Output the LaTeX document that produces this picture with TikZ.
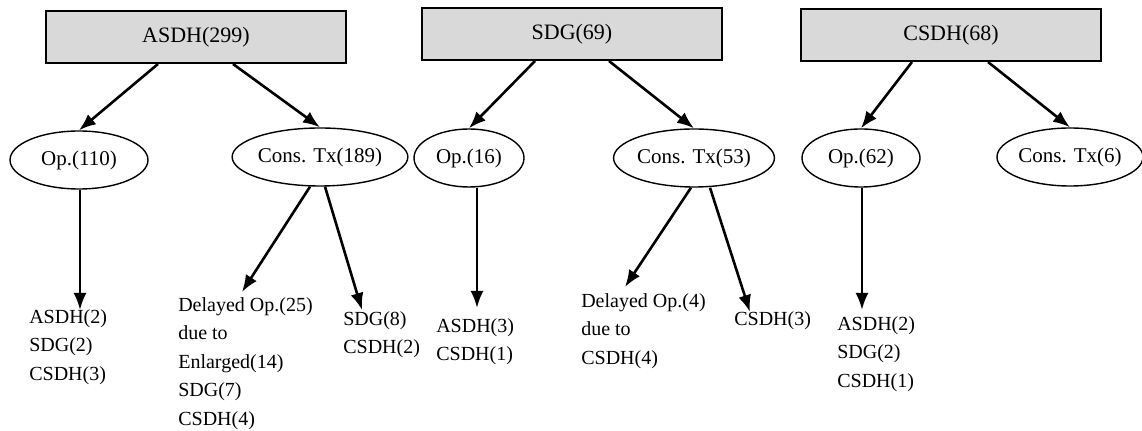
\documentclass[tikz,border=0pt]{standalone}
\usepackage{fontspec}
\setmainfont{Liberation Serif}
\usepackage{tikz}
\usetikzlibrary{arrows.meta, positioning, shapes.geometric, calc}

\begin{document}
\begin{tikzpicture}[
  x=0.5pt, y=-0.5pt,
  >={Latex[length=8.5pt, width=6.5pt]}, line width=1.3pt,
  group/.style = {draw, rectangle, fill=gray!30, line width=1pt,
                  minimum width=150pt, minimum height=26pt, font=\fontsize{11}{13}\selectfont},
  kind/.style  = {draw, ellipse, line width=0.7pt, inner sep=0pt,
                  minimum height=29pt, font=\fontsize{10.5}{12}\selectfont},
  leaf/.style  = {align=left, inner sep=0pt, anchor=north west,
                  font=\fontsize{10}{14.3}\selectfont},
]
  \useasboundingbox (0,0) rectangle (1142,431);

%--- ASDH ---
  \node[group]                         (asdh)  at (196,37)  {ASDH(299)};
  \node[kind, minimum width=69pt]      (aop)   at (79,160)  {Op.(110)};
  \node[kind, minimum width=70pt]      (acons) at (320,157) {Cons. Tx(189)};

  \node[leaf] (aopl)  at (28,308)  {ASDH(2)\\SDG(2)\\CSDH(3)};
  \node[leaf] (adel)  at (177,296) {Delayed Op.(25)\\due to\\Enlarged(14)\\SDG(7)\\CSDH(4)};
  \node[leaf] (aoth)  at (342,310) {SDG(8)\\CSDH(2)};

  \coordinate (aopt)  at (80,310);
  \coordinate (adelt) at (242,292);
  \coordinate (aotht) at (362,310);

  \draw[->] ($(asdh.south)+(-38,0)$) -- (aop.north);
  \draw[->] ($(asdh.south)+(37,0)$)  -- (acons.north);
  \draw[->] (aop.south -| aopt)      -- (aopt);
  \draw[->] ($(acons.south)+(-10,0)$) -- (adelt);
  \draw[->] ($(acons.south)+(5,0)$)   -- (aotht);

%--- SDG ---
  \node[group]                         (sdg)   at (572,34)  {SDG(69)};
  \node[kind, minimum width=55pt]      (sop)   at (469,158) {Op.(16)};
  \node[kind, minimum width=69pt]      (scons) at (694,158) {Cons. Tx(53)};

  \node[leaf] (sopl)  at (435,317) {ASDH(3)\\CSDH(1)};
  \node[leaf] (sdel)  at (580,292) {Delayed Op.(4)\\due to\\CSDH(4)};
  \node[leaf] (soth)  at (733,310) {CSDH(3)};

  \coordinate (sopt)  at (477,308);
  \coordinate (sdelt) at (625,287);
  \coordinate (sotht) at (750,312);

  \draw[->] ($(sdg.south)+(-37,0)$) -- (sop.north);
  \draw[->] ($(sdg.south)+(37,0)$)  -- (scons.north);
  \draw[->] (sop.south -| sopt)     -- (sopt);
  \draw[->] ($(scons.south)+(-3,0)$) -- (sdelt);
  \draw[->] ($(scons.south)+(16,0)$) -- (sotht);

%--- CSDH ---
  \node[group]                         (csdh)  at (951,35)  {CSDH(68)};
  \node[kind, minimum width=59pt]      (cop)   at (861,158) {Op.(62)};
  \node[kind, minimum width=70pt]      (ccons) at (1070,157) {Cons. Tx(6)};

  \node[leaf] (copl)  at (836,315) {ASDH(2)\\SDG(2)\\CSDH(1)};

  \coordinate (copt)  at (862,310);

  \draw[->] ($(csdh.south)+(-39,0)$) -- (cop.north);
  \draw[->] ($(csdh.south)+(37,0)$)  -- (ccons.north);
  \draw[->] (cop.south -| copt)      -- (copt);
\end{tikzpicture}
\end{document}
